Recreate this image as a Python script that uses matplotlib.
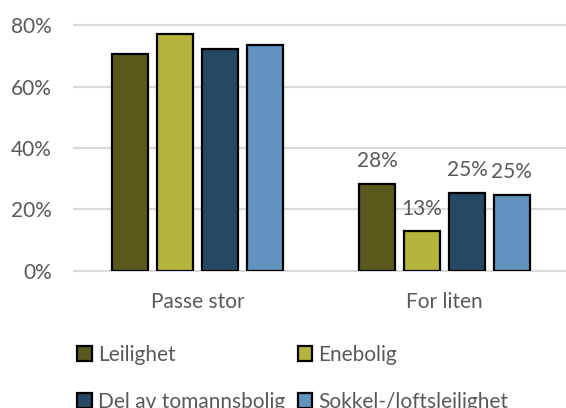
import numpy as np
import matplotlib
matplotlib.use('Agg')
import matplotlib.pyplot as plt
from matplotlib.patches import Patch

# Data
kategorier = ['Passe stor', 'For liten']
serier = ['Leilighet', 'Enebolig', 'Del av tomannsbolig', 'Sokkel-/loftsleilighet']
verdier = {
    'Leilighet': [0.707, 0.284],
    'Enebolig': [0.772, 0.128],
    'Del av tomannsbolig': [0.723, 0.254],
    'Sokkel-/loftsleilighet': [0.735, 0.248],
}
etiketter = {
    'Leilighet': [None, '28%'],
    'Enebolig': [None, '13%'],
    'Del av tomannsbolig': [None, '25%'],
    'Sokkel-/loftsleilighet': [None, '25%'],
}
farger = ['#59591E', '#B5B43C', '#274864', '#6193BF']
y_ticks = [0, 0.2, 0.4, 0.6, 0.8]

plt.rcParams['font.family'] = ['Lato', 'DejaVu Sans']
tekstfarge = '#595959'
fs = 15

fig = plt.figure(figsize=(5.66, 4.08), dpi=100)
ax = fig.add_axes([74 / 566, 137.3 / 408, 494 / 566, 245.4 / 408])

x = np.arange(len(kategorier))
bredde = 0.146
steg = 0.182
for i, navn in enumerate(serier):
    pos = x + (i - 1.5) * steg
    ax.bar(pos, verdier[navn], width=bredde, color=farger[i],
           edgecolor='black', linewidth=1.6, zorder=3)
    for xp, v, lab in zip(pos, verdier[navn], etiketter[navn]):
        if lab:
            ax.annotate(lab, (xp, v), xytext=(0, 9), textcoords='offset points',
                        ha='center', va='bottom', fontsize=fs, color=tekstfarge)

for t in y_ticks:
    ax.axhline(t, color='#D9D9D9', linewidth=1.6, zorder=1, clip_on=False)

ax.set_xlim(-0.5, 1.5)
ax.set_ylim(0, 0.8)
ax.set_yticks(y_ticks)
ax.set_yticklabels([f'{int(t * 100)}%' for t in y_ticks])
ax.set_xticks(x)
ax.set_xticklabels(kategorier)
ax.tick_params(axis='both', length=0, labelsize=fs, labelcolor=tekstfarge)
ax.tick_params(axis='y', pad=16)
ax.tick_params(axis='x', pad=15)
for s in ax.spines.values():
    s.set_visible(False)

# Legend, row-wise order
rekkefolge = [0, 2, 1, 3]
handles = [Patch(facecolor=farger[i], edgecolor='black', linewidth=1.6) for i in rekkefolge]
labels = [serier[i] for i in rekkefolge]
fig.legend(handles, labels, ncol=2, loc='upper left', bbox_to_anchor=(77 / 566, 1 - 345 / 408),
           frameon=False, fontsize=fs, labelcolor=tekstfarge,
           handlelength=0.7, handleheight=0.7, handletextpad=0.3,
           columnspacing=0.6, labelspacing=1.28, borderaxespad=0, borderpad=0)

fig.savefig('out.png', dpi=100)
